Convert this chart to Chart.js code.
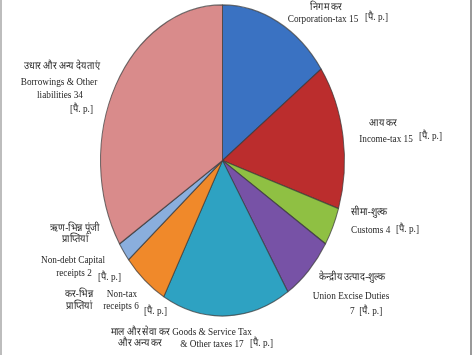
<!DOCTYPE html>
<html>
<head>
<meta charset="utf-8">
<script src="https://cdn.jsdelivr.net/npm/chart.js@4/dist/chart.umd.min.js"></script>
<style>
  html, body { margin: 0; padding: 0; background: #fff; }
  #wrap { position: relative; width: 474px; height: 355px; overflow: hidden; }
  #frameL { position: absolute; left: 0; top: 0; width: 2px; height: 355px; background: #bdbdbd; }
  #frameR { position: absolute; left: 470px; top: 0; width: 2px; height: 355px; background: #9a9a9a; }
</style>
</head>
<body>
<div id="wrap">
  <canvas id="pie" width="474" height="355"></canvas>
  <div id="frameL"></div>
  <div id="frameR"></div>
</div>
<script>
// data
const categories = ['Corporation-tax', 'Income-tax', 'Customs', 'Union Excise Duties',
  'Goods & Service Tax & Other taxes', 'Non-tax receipts', 'Non-debt Capital receipts',
  'Borrowings & Other liabilities']
const hindiNames = ['निगम कर', 'आय कर', 'सीमा-शुल्क', 'केन्द्रीय उत्पाद-शुल्क',
  'माल और सेवा कर और अन्य कर', 'कर-भिन्न प्राप्तियां', 'ऋण-भिन्न पूंजी प्राप्तियां', 'उधार और अन्य देयताएं']
const values = [15, 15, 4, 7, 17, 6, 2, 34]
const unitTag = '[पै. p.]'

const baseColors = ['#3a72c2', '#bb2d2d', '#8fc043', '#7752a6', '#2ea2c2', '#f0892a', '#8aaedd', '#d98b8b']
const edgeColors = ['#24508c', '#862020', '#66902c', '#533a78', '#1f778f', '#b5641b', '#6282ab', '#aa6868']

// the pie in the picture is an ellipse, taller than wide
const yStretch = 1.275

// label lines: text, x, y, align
const labelLines = [
  [hindiNames[0], 326, 7, 'center'],
  ['Corporation-tax ' + values[0], 323, 19, 'center'],
  [unitTag, 365, 17, 'left'],

  [hindiNames[1], 383, 123, 'center'],
  ['Income-tax ' + values[1], 386, 139, 'center'],
  [unitTag, 419, 136, 'left'],

  [hindiNames[2], 351, 212, 'left'],
  ['Customs ' + values[2], 351, 230, 'left'],
  [unitTag, 396, 229, 'left'],

  [hindiNames[3], 352, 277, 'center'],
  ['Union Excise Duties', 351, 296, 'center'],
  [values[3] + '  ' + unitTag, 350, 311, 'left'],

  ['माल और सेवा कर', 140, 332, 'center'],
  ['Goods & Service Tax', 212, 332, 'center'],
  ['और अन्य कर', 140, 343, 'center'],
  ['& Other taxes ' + values[4], 212, 344, 'center'],
  [unitTag, 250, 343, 'left'],

  ['कर-भिन्न', 79, 294, 'center'],
  ['प्राप्तियां', 79, 306, 'center'],
  ['Non-tax', 122, 294, 'center'],
  ['receipts ' + values[5], 121, 306, 'center'],
  [unitTag, 144, 311, 'left'],

  ['ऋण-भिन्न पूंजी', 75, 228, 'center'],
  ['प्राप्तियां', 75, 239, 'center'],
  ['Non-debt Capital', 73, 260, 'center'],
  ['receipts ' + values[6], 74, 273, 'center'],
  [unitTag, 98, 277, 'left'],

  [hindiNames[7], 62, 66, 'center'],
  ['Borrowings & Other', 59, 82, 'center'],
  ['liabilities ' + values[7], 60, 95, 'center'],
  [unitTag, 70, 109, 'left'],
]


// radial shading for each slice
function sliceFill(context) {
  let chart = context.chart
  let arc = chart.getDatasetMeta(0).data[context.dataIndex]
  if (!arc || !arc.outerRadius) return baseColors[context.dataIndex]
  let g = chart.ctx.createRadialGradient(arc.x, arc.y, 0, arc.x, arc.y, arc.outerRadius)
  g.addColorStop(0, baseColors[context.dataIndex])
  g.addColorStop(0.75, baseColors[context.dataIndex])
  g.addColorStop(1, edgeColors[context.dataIndex])
  return g
}


const stretchPlugin = {
  id: 'stretch',
  beforeDatasetsDraw(chart) {
    let arc = chart.getDatasetMeta(0).data[0]
    let ctx = chart.ctx
    ctx.save()
    ctx.translate(arc.x, arc.y)
    ctx.scale(1, yStretch)
    ctx.translate(-arc.x, -arc.y)
  },
  afterDatasetsDraw(chart) {
    chart.ctx.restore()
  }
}


const labelPlugin = {
  id: 'sliceLabels',
  afterDraw(chart) {
    let ctx = chart.ctx
    ctx.save()
    ctx.fillStyle = '#262626'
    ctx.textBaseline = 'middle'
    labelLines.forEach(([text, x, y, align]) => {
      ctx.save()
      ctx.translate(x, y)
      ctx.scale(0.88, 1)
      ctx.textAlign = align
      ctx.font = '10.5px "Liberation Serif", "Times New Roman", serif'
      ctx.fillText(text, 0, 0)
      ctx.restore()
    })
    ctx.restore()
  }
}


new Chart(document.getElementById('pie'), {
  type: 'pie',
  data: {
    labels: categories,
    datasets: [{
      data: values,
      backgroundColor: sliceFill,
      borderColor: 'rgba(55, 55, 55, 0.7)',
      borderWidth: 1,
      clip: false
    }]
  },
  options: {
    responsive: false,
    devicePixelRatio: 1,
    animation: false,
    layout: {
      padding: { left: 100, right: 129, top: 38, bottom: 72 }
    },
    plugins: {
      legend: { display: false },
      tooltip: { enabled: false },
      title: { display: false }
    }
  },
  plugins: [stretchPlugin, labelPlugin]
})
</script>
</body>
</html>
